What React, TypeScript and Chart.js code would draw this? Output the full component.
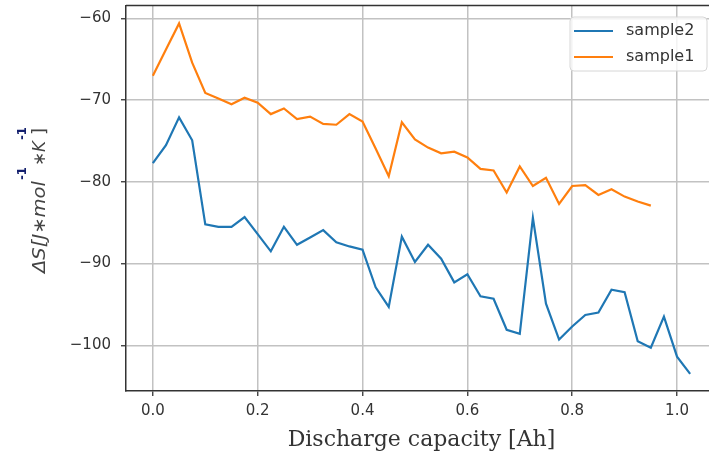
import React, { useEffect, useRef } from "react";
import { Chart, registerables } from "chart.js";

Chart.register(...registerables);

const capacity = [
  0, 0.025, 0.05, 0.075, 0.1, 0.125, 0.15, 0.175, 0.2, 0.225, 0.25, 0.275, 0.3, 0.325,
  0.35, 0.375, 0.4, 0.425, 0.45, 0.475, 0.5, 0.525, 0.55, 0.575, 0.6, 0.625, 0.65, 0.675,
  0.7, 0.725, 0.75, 0.775, 0.8, 0.825, 0.85, 0.875, 0.9, 0.925, 0.95, 0.975, 1.0, 1.025,
];

const sample2 = [
  -77.7, -75.5, -72.1, -74.9, -85.2, -85.5, -85.5, -84.3, -86.4, -88.5, -85.5, -87.7, -86.8, -85.9,
  -87.4, -87.9, -88.3, -92.9, -95.3, -86.7, -89.8, -87.7, -89.4, -92.3, -91.3, -94.0, -94.3, -98.1,
  -98.6, -84.4, -94.9, -99.3, -97.7, -96.3, -96.0, -93.2, -93.5, -99.5, -100.3, -96.5, -101.4, -103.5,
];

const sample1 = [
  -67.0, -63.8, -60.6, -65.4, -69.1, -69.8, -70.5, -69.7, -70.3, -71.7, -71.0, -72.3, -72.0, -72.9,
  -73.0, -71.7, -72.6, -75.9, -79.3, -72.7, -74.8, -75.8, -76.5, -76.3, -77.0, -78.4, -78.6, -81.3,
  -78.1, -80.5, -79.5, -82.7, -80.5, -80.4, -81.6, -80.9, -81.8, -82.4, -82.9,
];

const xTicks = [0, 0.2, 0.4, 0.6, 0.8, 1.0];
const yTicks = [-100, -90, -80, -70, -60];
const seriesNames = ["sample2", "sample1"];
const seriesColors = ["#1f77b4", "#ff7f0e"];
const xTitle = "Discharge capacity [Ah]";

export default function App() {
  const ref = useRef<HTMLCanvasElement>(null);

  useEffect(() => {
    document.body.style.margin = "0";
    const canvas = ref.current;
    if (!canvas) return;

    const drawFit = (
      ctx: CanvasRenderingContext2D,
      text: string,
      startY: number,
      endY: number,
      baseX: number,
      font: string,
      color: string
    ) => {
      ctx.save();
      ctx.font = font;
      ctx.fillStyle = color;
      ctx.textBaseline = "alphabetic";
      ctx.textAlign = "left";
      ctx.translate(baseX, startY);
      ctx.rotate(-Math.PI / 2);
      const w = ctx.measureText(text).width;
      ctx.scale((startY - endY) / w, 1);
      ctx.fillText(text, 0, 0);
      ctx.restore();
    };

    const decor = {
      id: "decor",
      afterDraw(chart: any) {
        const ctx: CanvasRenderingContext2D = chart.ctx;
        const a = chart.chartArea;
        ctx.save();
        ctx.strokeStyle = "#333";
        ctx.lineWidth = 1.5;
        ctx.beginPath();
        ctx.moveTo(a.left, a.top);
        ctx.lineTo(a.right, a.top);
        ctx.lineTo(a.right, a.bottom);
        ctx.stroke();
        ctx.restore();

        // y-axis label
        const main = "italic 17px 'DejaVu Sans'";
        const sup = "bold 12px 'DejaVu Sans'";
        drawFit(ctx, "ΔS[J∗mol", 273, 181, 45, main, "#444");
        drawFit(ctx, "-1", 180, 167, 26, sup, "#14206e");
        drawFit(ctx, "∗K", 166, 141, 45, main, "#444");
        drawFit(ctx, "-1", 140, 127, 26, sup, "#14206e");
        drawFit(ctx, "]", 135, 128, 45, "17px 'DejaVu Sans'", "#444");

        // legend
        ctx.save();
        const lx = 570, ly = 17, lw = 137, lh = 54;
        ctx.beginPath();
        ctx.roundRect(lx, ly, lw, lh, 4);
        ctx.fillStyle = "rgba(255,255,255,0.8)";
        ctx.fill();
        ctx.strokeStyle = "#d6d6d6";
        ctx.lineWidth = 1;
        ctx.stroke();
        ctx.font = "16px 'DejaVu Sans'";
        ctx.textBaseline = "middle";
        ctx.textAlign = "left";
        seriesNames.forEach((name, i) => {
          const y = 31 + i * 26;
          ctx.strokeStyle = seriesColors[i];
          ctx.lineWidth = 2.2;
          ctx.beginPath();
          ctx.moveTo(574, y);
          ctx.lineTo(613, y);
          ctx.stroke();
          ctx.fillStyle = "#333";
          ctx.fillText(name, 626, y);
        });
        ctx.restore();
      },
    };

    const tickFont = { family: "DejaVu Sans", size: 15 };
    const grid = {
      color: "#c2c2c2",
      lineWidth: 1.5,
      tickLength: 5,
      tickColor: "#333",
      tickWidth: 1.3,
      drawTicks: true,
    };

    const chart = new Chart(canvas, {
      type: "line",
      data: {
        datasets: [
          {
            label: seriesNames[0],
            data: sample2.map((y, i) => ({ x: capacity[i], y })),
            borderColor: seriesColors[0],
            backgroundColor: seriesColors[0],
            borderWidth: 2.2,
            pointRadius: 0,
            tension: 0,
            fill: false,
          },
          {
            label: seriesNames[1],
            data: sample1.map((y, i) => ({ x: capacity[i], y })),
            borderColor: seriesColors[1],
            backgroundColor: seriesColors[1],
            borderWidth: 2.2,
            pointRadius: 0,
            tension: 0,
            fill: false,
          },
        ],
      },
      options: {
        responsive: false,
        animation: false,
        devicePixelRatio: 1,
        layout: { padding: { top: 5.5, right: 3, left: 0, bottom: 0 } },
        plugins: { legend: { display: false }, tooltip: { enabled: false } },
        scales: {
          x: {
            type: "linear",
            min: -0.05125,
            max: 1.07625,
            afterBuildTicks: (s: any) => {
              s.ticks = xTicks.map((v) => ({ value: v }));
            },
            afterFit: (s: any) => {
              s.height = 65;
              s.paddingLeft = 0;
              s.paddingRight = 0;
            },
            ticks: {
              font: tickFont,
              color: "#333",
              padding: 6,
              maxRotation: 0,
              autoSkip: false,
              callback: (v: any) => Number(v).toFixed(1),
            },
            grid,
            border: { color: "#333", width: 1.5 },
            title: {
              display: true,
              text: xTitle,
              font: { family: "DejaVu Serif", size: 22, lineHeight: 1.2 },
              color: "#333",
              padding: { top: 0, bottom: 3 },
            },
          },
          y: {
            type: "linear",
            min: -105.6,
            max: -58.4,
            afterBuildTicks: (s: any) => {
              s.ticks = yTicks.map((v) => ({ value: v }));
            },
            afterFit: (s: any) => {
              s.width = 126;
              s.paddingTop = 0;
              s.paddingBottom = 0;
            },
            ticks: {
              font: tickFont,
              color: "#333",
              padding: 10,
              autoSkip: false,
              callback: (v: any) => (Number(v) < 0 ? "\u2212" + Math.abs(Number(v)) : String(v)),
            },
            grid,
            border: { color: "#333", width: 1.5 },
          },
        },
      },
      plugins: [decor],
    } as any);

    return () => chart.destroy();
  }, []);

  return (
    <div
      style={{
        position: "fixed",
        left: 0,
        top: 0,
        width: 709,
        height: 456,
        overflow: "hidden",
        background: "#fff",
      }}
    >
      <canvas ref={ref} width={720} height={456} style={{ display: "block", width: 720, height: 456 }} />
    </div>
  );
}
